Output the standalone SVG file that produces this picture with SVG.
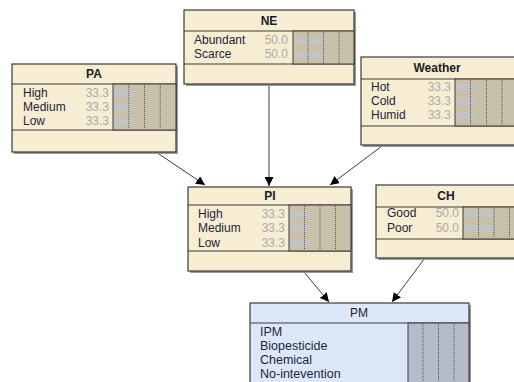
<svg xmlns="http://www.w3.org/2000/svg" width="514" height="382" viewBox="0 0 514 382">
<defs>
<style>
.box{fill:#F6EDD2;stroke:#3a3a3a;stroke-width:1.2}
.pmbox{fill:#DDE7FA;stroke:#3a3a3a;stroke-width:1.2}
.sh{fill:#9a9a9a}
.bar{fill:#C9C0AA;stroke:#3a3a3a;stroke-width:1}
.pmbar{fill:#B5BBC9;stroke:#3a3a3a;stroke-width:1}
.sep{stroke:#3a3a3a;stroke-width:1}
.dot{stroke:#555;stroke-width:1;stroke-dasharray:1 1}
.pb{fill:#C3C3C3}
.t{font-family:"Liberation Sans",Arial,sans-serif;font-size:12px;font-weight:bold;fill:#1c1c2a;text-anchor:middle}
.pmt{font-family:"Liberation Sans",Arial,sans-serif;font-size:12px;fill:#1c1c2a;text-anchor:middle}
.l{font-family:"Liberation Sans",Arial,sans-serif;font-size:12px;fill:#1f1f3a}
.pml{font-family:"Liberation Sans",Arial,sans-serif;font-size:12.5px;fill:#1f1f3a}
.v{font-family:"Liberation Sans",Arial,sans-serif;font-size:12px;fill:#ababab;text-anchor:end}
.c{stroke:#3c3c3c;stroke-width:1;fill:none}
</style>
<marker id="ah" viewBox="0 0 10 10" refX="10" refY="5" markerWidth="9" markerHeight="9" markerUnits="userSpaceOnUse" orient="auto">
<path d="M0,0 L10,5 L0,10 z" fill="#000"/>
</marker>
</defs>
<rect width="514" height="382" fill="#fff"/>

<g id="connectors">
<line class="c" x1="156" y1="152" x2="205" y2="185" marker-end="url(#ah)"/>
<line class="c" x1="269" y1="84" x2="269" y2="186" marker-end="url(#ah)"/>
<line class="c" x1="382" y1="146" x2="330" y2="185" marker-end="url(#ah)"/>
<line class="c" x1="304" y1="272" x2="329" y2="302" marker-end="url(#ah)"/>
<line class="c" x1="425" y1="258" x2="392" y2="302" marker-end="url(#ah)"/>
</g>

<g id="NE">
<rect class="sh" x="186" y="12" width="170" height="74"/>
<rect class="box" x="184" y="10" width="170" height="74"/>
<line class="sep" x1="184" y1="31" x2="354" y2="31"/>
<line class="sep" x1="184" y1="64" x2="354" y2="64"/>
<rect class="bar" x="293" y="31" width="61" height="33"/>
<rect class="pb" x="294" y="37" width="30" height="7"/>
<rect class="pb" x="294" y="51" width="30" height="7"/>
<line class="dot" x1="308" y1="32" x2="308" y2="63"/>
<line class="dot" x1="323.5" y1="32" x2="323.5" y2="63"/>
<line class="dot" x1="339" y1="32" x2="339" y2="63"/>
<text class="t" x="269" y="25">NE</text>
<text class="l" x="194" y="44">Abundant</text>
<text class="v" x="288" y="44">50.0</text>
<text class="l" x="194" y="58">Scarce</text>
<text class="v" x="288" y="58">50.0</text>
</g>

<g id="PA">
<rect class="sh" x="14" y="66" width="164" height="88"/>
<rect class="box" x="12" y="64" width="164" height="88"/>
<line class="sep" x1="12" y1="84" x2="176" y2="84"/>
<line class="sep" x1="12" y1="130" x2="176" y2="130"/>
<rect class="bar" x="113" y="84" width="63" height="46"/>
<rect class="pb" x="114" y="90" width="20" height="7"/>
<rect class="pb" x="114" y="104" width="20" height="7"/>
<rect class="pb" x="114" y="118" width="20" height="7"/>
<line class="dot" x1="128.75" y1="85" x2="128.75" y2="129"/>
<line class="dot" x1="144.5" y1="85" x2="144.5" y2="129"/>
<line class="dot" x1="160.25" y1="85" x2="160.25" y2="129"/>
<text class="t" x="94" y="78">PA</text>
<text class="l" x="23" y="97">High</text>
<text class="v" x="109" y="97">33.3</text>
<text class="l" x="23" y="111">Medium</text>
<text class="v" x="109" y="111">33.3</text>
<text class="l" x="23" y="125">Low</text>
<text class="v" x="109" y="125">33.3</text>
</g>

<g id="Weather">
<rect class="sh" x="363" y="59" width="160" height="88"/>
<rect class="box" x="361" y="57" width="160" height="88"/>
<line class="sep" x1="361" y1="79" x2="521" y2="79"/>
<line class="sep" x1="361" y1="126" x2="521" y2="126"/>
<rect class="bar" x="455" y="79" width="66" height="47"/>
<rect class="pb" x="456" y="84" width="20" height="7"/>
<rect class="pb" x="456" y="98" width="20" height="7"/>
<rect class="pb" x="456" y="112" width="20" height="7"/>
<line class="dot" x1="470.5" y1="80" x2="470.5" y2="125"/>
<line class="dot" x1="486.5" y1="80" x2="486.5" y2="125"/>
<line class="dot" x1="502" y1="80" x2="502" y2="125"/>
<text class="t" x="437" y="72">Weather</text>
<text class="l" x="371" y="91">Hot</text>
<text class="v" x="451" y="91">33.3</text>
<text class="l" x="371" y="105">Cold</text>
<text class="v" x="451" y="105">33.3</text>
<text class="l" x="371" y="119">Humid</text>
<text class="v" x="451" y="119">33.3</text>
</g>

<g id="PI">
<rect class="sh" x="190" y="189" width="163" height="84"/>
<rect class="box" x="188" y="187" width="163" height="84"/>
<line class="sep" x1="188" y1="205" x2="351" y2="205"/>
<line class="sep" x1="188" y1="251" x2="351" y2="251"/>
<rect class="bar" x="289" y="205" width="62" height="46"/>
<rect class="pb" x="290" y="211" width="20" height="7"/>
<rect class="pb" x="290" y="225" width="20" height="7"/>
<rect class="pb" x="290" y="240" width="20" height="7"/>
<line class="dot" x1="304.5" y1="206" x2="304.5" y2="250"/>
<line class="dot" x1="320" y1="206" x2="320" y2="250"/>
<line class="dot" x1="335.5" y1="206" x2="335.5" y2="250"/>
<text class="t" x="270" y="200">PI</text>
<text class="l" x="198" y="218">High</text>
<text class="v" x="285" y="218">33.3</text>
<text class="l" x="198" y="232">Medium</text>
<text class="v" x="285" y="232">33.3</text>
<text class="l" x="198" y="247">Low</text>
<text class="v" x="285" y="247">33.3</text>
</g>

<g id="CH">
<rect class="sh" x="378" y="187" width="150" height="73"/>
<rect class="box" x="376" y="185" width="150" height="73"/>
<line class="sep" x1="376" y1="207" x2="526" y2="207"/>
<line class="sep" x1="376" y1="239" x2="526" y2="239"/>
<rect class="bar" x="463" y="207" width="63" height="32"/>
<rect class="pb" x="464" y="210" width="30" height="7"/>
<rect class="pb" x="464" y="225" width="30" height="7"/>
<line class="dot" x1="478.5" y1="208" x2="478.5" y2="238"/>
<line class="dot" x1="494" y1="208" x2="494" y2="238"/>
<line class="dot" x1="509.5" y1="208" x2="509.5" y2="238"/>
<text class="t" x="446" y="200">CH</text>
<text class="l" x="387" y="217">Good</text>
<text class="v" x="459" y="217">50.0</text>
<text class="l" x="387" y="232">Poor</text>
<text class="v" x="459" y="232">50.0</text>
</g>

<g id="PM">
<rect class="sh" x="252" y="305" width="219" height="90"/>
<rect class="pmbox" x="250" y="303" width="219" height="90"/>
<line class="sep" x1="250" y1="323" x2="469" y2="323"/>
<rect class="pmbar" x="408" y="323" width="61" height="70"/>
<line class="dot" x1="423" y1="324" x2="423" y2="382"/>
<line class="dot" x1="438.5" y1="324" x2="438.5" y2="382"/>
<line class="dot" x1="454" y1="324" x2="454" y2="382"/>
<text class="pmt" x="359" y="317">PM</text>
<text class="pml" x="260" y="336">IPM</text>
<text class="pml" x="260" y="349.5">Biopesticide</text>
<text class="pml" x="260" y="364">Chemical</text>
<text class="pml" x="260" y="377.5">No-intevention</text>
</g>
</svg>
